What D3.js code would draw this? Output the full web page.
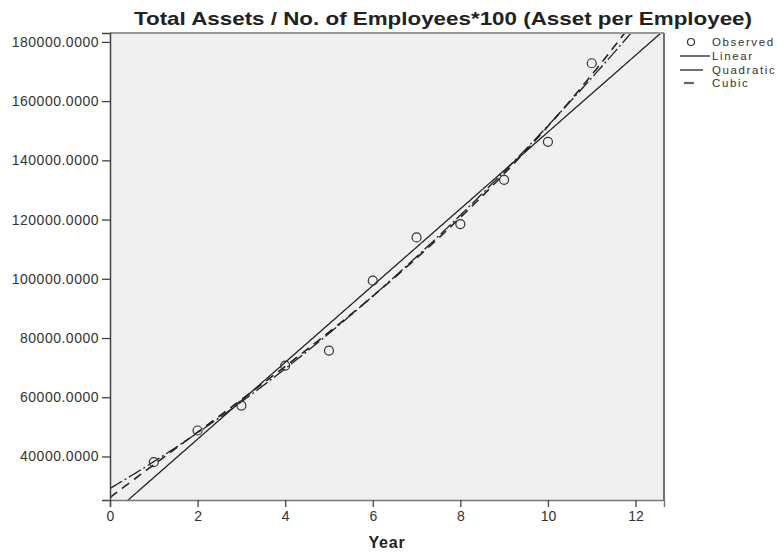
<!DOCTYPE html>
<html>
<head>
<meta charset="utf-8">
<script src="https://cdn.jsdelivr.net/npm/d3@7/dist/d3.min.js"></script>
<style>
  html, body { margin: 0; padding: 0; background: #fff; }
  svg { display: block; font-family: "Liberation Sans", Arial, sans-serif; }
</style>
</head>
<body>
<svg id="chart" width="779" height="553"></svg>
<script>
// Observed asset per employee by year
const years = [1, 2, 3, 4, 5, 6, 7, 8, 9, 10, 11];
const assetPerEmployee = [38080, 48770, 57200, 70690, 75750, 99360, 113960, 118480, 133420, 146240, 172780];

const yTicks = [40000, 60000, 80000, 100000, 120000, 140000, 160000, 180000];
const xTicks = [0, 2, 4, 6, 8, 10, 12];
const legendLabels = ["Observed", "Linear", "Quadratic", "Cubic"];

const titleText = "Total Assets / No. of Employees*100 (Asset per Employee)";
const xTitle = "Year";

// Least-squares polynomial fit of a given degree (normal equations)
function polyFit(xs, ys, degree) {
  const n = degree + 1;
  const A = Array.from({length: n}, () => new Array(n + 1).fill(0));
  for (let r = 0; r < n; r++) {
    for (let c = 0; c < n; c++) {
      A[r][c] = d3.sum(xs, x => Math.pow(x, r + c));
    }
    A[r][n] = d3.sum(xs, (x, i) => ys[i] * Math.pow(x, r));
  }
  for (let i = 0; i < n; i++) {
    let p = i;
    for (let k = i + 1; k < n; k++) if (Math.abs(A[k][i]) > Math.abs(A[p][i])) p = k;
    [A[i], A[p]] = [A[p], A[i]];
    for (let k = i + 1; k < n; k++) {
      const f = A[k][i] / A[i][i];
      for (let j = i; j <= n; j++) A[k][j] -= f * A[i][j];
    }
  }
  const coef = new Array(n).fill(0);
  for (let i = n - 1; i >= 0; i--) {
    let s = A[i][n];
    for (let j = i + 1; j < n; j++) s -= A[i][j] * coef[j];
    coef[i] = s / A[i][i];
  }
  return x => coef.reduce((acc, c, k) => acc + c * Math.pow(x, k), 0);
}

const svg = d3.select("#chart");
const plot = {left: 110, top: 33, right: 664, bottom: 500};

const x = d3.scaleLinear().domain([0, 12.65]).range([plot.left, plot.right]);
const y = d3.scaleLinear().domain([25300, 183000]).range([plot.bottom, plot.top]);

// Plot background
svg.append("rect")
  .attr("x", plot.left).attr("y", plot.top)
  .attr("width", plot.right - plot.left).attr("height", plot.bottom - plot.top)
  .attr("fill", "#f0f0f0");

svg.append("clipPath").attr("id", "plotClip")
  .append("rect")
  .attr("x", plot.left).attr("y", plot.top)
  .attr("width", plot.right - plot.left).attr("height", plot.bottom - plot.top);

// Fitted curves
const fits = [
  {name: "Linear", f: polyFit(years, assetPerEmployee, 1), dash: null, width: 1.3},
  {name: "Quadratic", f: polyFit(years, assetPerEmployee, 2), dash: "14,3,2,3", width: 1.3},
  {name: "Cubic", f: polyFit(years, assetPerEmployee, 3), dash: "9,6", width: 1.6}
];
const xs = d3.range(0, 12.66, 0.05);
const line = d3.line().x(d => x(d[0])).y(d => y(d[1]));
const curves = svg.append("g").attr("clip-path", "url(#plotClip)");
fits.forEach(fit => {
  curves.append("path")
    .attr("d", line(xs.map(v => [v, fit.f(v)])))
    .attr("fill", "none")
    .attr("stroke", "#222")
    .attr("stroke-width", fit.width)
    .attr("stroke-dasharray", fit.dash);
});

// Observed points
svg.append("g").selectAll("circle")
  .data(years)
  .join("circle")
  .attr("cx", (d) => x(d))
  .attr("cy", (d, i) => y(assetPerEmployee[i]))
  .attr("r", 4.5)
  .attr("fill", "none")
  .attr("stroke", "#333")
  .attr("stroke-width", 1.2);

// Frame
svg.append("line").attr("x1", plot.left).attr("x2", plot.right)
  .attr("y1", plot.top).attr("y2", plot.top)
  .attr("stroke", "#999").attr("stroke-width", 2);
svg.append("line").attr("x1", plot.right).attr("x2", plot.right)
  .attr("y1", plot.top).attr("y2", plot.bottom)
  .attr("stroke", "#444").attr("stroke-width", 1.5);

// Axes
const yAxis = d3.axisLeft(y).tickValues(yTicks)
  .tickFormat(d => d3.format(".4f")(d)).tickSize(8).tickPadding(3);
const gy = svg.append("g").attr("transform", `translate(${plot.left},0)`).call(yAxis);
gy.select(".domain").attr("stroke", "#444").attr("stroke-width", 1.5);
gy.selectAll(".tick line").attr("stroke", "#444").attr("stroke-width", 1.3);
gy.selectAll(".tick text").attr("font-size", 14).attr("fill", "#333")
  .attr("letter-spacing", 0.5).attr("font-family", "Liberation Sans, Arial, sans-serif");

const xAxis = d3.axisBottom(x).tickValues(xTicks).tickFormat(d3.format("d"))
  .tickSize(7).tickPadding(4);
const gx = svg.append("g").attr("transform", `translate(0,${plot.bottom})`).call(xAxis);
gx.select(".domain").attr("stroke", "#777").attr("stroke-width", 1.5);
gx.selectAll(".tick line").attr("stroke", "#444").attr("stroke-width", 1.3);
gx.selectAll(".tick text").attr("font-size", 14).attr("fill", "#333")
  .attr("font-family", "Liberation Sans, Arial, sans-serif");

// Titles
svg.append("text")
  .attr("x", 443).attr("y", 25)
  .attr("text-anchor", "middle")
  .attr("font-size", 19).attr("font-weight", "bold").attr("fill", "#222")
  .attr("textLength", 618).attr("lengthAdjust", "spacingAndGlyphs")
  .text(titleText);

svg.append("text")
  .attr("x", (plot.left + plot.right) / 2).attr("y", 548)
  .attr("text-anchor", "middle")
  .attr("font-size", 16).attr("font-weight", "bold").attr("fill", "#222")
  .attr("letter-spacing", 0.8)
  .text(xTitle);

// Legend
const legend = svg.append("g");
const legendY = [42, 56, 70, 83];
legendLabels.forEach((label, i) => {
  const ly = legendY[i];
  if (i === 0) {
    legend.append("circle").attr("cx", 691).attr("cy", ly).attr("r", 3.5)
      .attr("fill", "none").attr("stroke", "#333").attr("stroke-width", 1.2);
  } else if (i === 1) {
    legend.append("line").attr("x1", 680).attr("x2", 710).attr("y1", ly).attr("y2", ly)
      .attr("stroke", "#222").attr("stroke-width", 1.3);
  } else if (i === 2) {
    legend.append("line").attr("x1", 680).attr("x2", 703).attr("y1", ly).attr("y2", ly)
      .attr("stroke", "#222").attr("stroke-width", 1.3);
  } else {
    legend.append("line").attr("x1", 684).attr("x2", 694).attr("y1", ly).attr("y2", ly)
      .attr("stroke", "#666").attr("stroke-width", 2.2);
  }
  legend.append("text")
    .attr("x", 712).attr("y", ly + 4)
    .attr("font-size", 11.5).attr("fill", "#333").attr("letter-spacing", 1.6)
    .text(label);
});
</script>
</body>
</html>
